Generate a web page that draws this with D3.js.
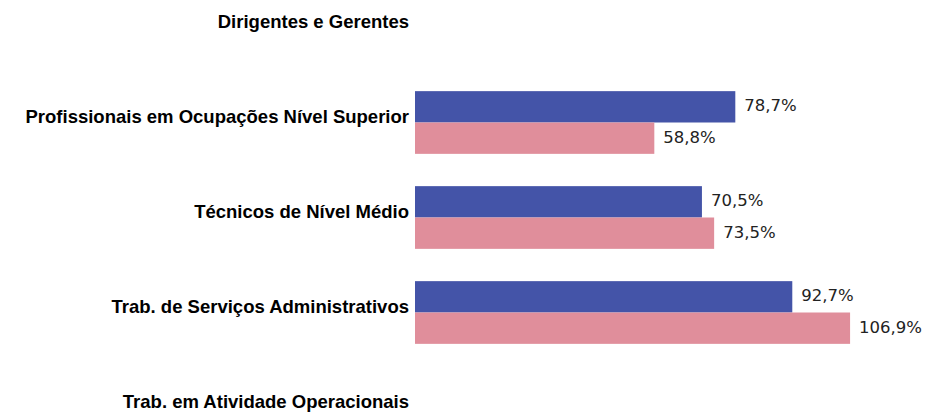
<!DOCTYPE html>
<html>
<head>
<meta charset="utf-8">
<script src="https://cdn.jsdelivr.net/npm/d3@7"></script>
<style>
  body { margin: 0; background: #fff; }
</style>
</head>
<body>
<svg id="chart" width="925" height="412"></svg>
<script>
// categories, top to bottom
const categories = [
  'Dirigentes e Gerentes',
  'Profissionais em Ocupações Nível Superior',
  'Técnicos de Nível Médio',
  'Trab. de Serviços Administrativos',
  'Trab. em Atividade Operacionais',
]

// series values (%), null where the picture shows no bar
const seriesKeys = ['Homens', 'Mulheres']
const homens = [null, 78.7, 70.5, 92.7, null]
const mulheres = [null, 58.8, 73.5, 106.9, null]

const colors = ['#4454a8', '#e08e9b']

const width = 925
const height = 412

const svg = d3.select('#chart')

svg
  .append('rect')
  .attr('width', width)
  .attr('height', height)
  .attr('fill', '#ffffff')

const rows = categories.map((c, i) => ({
  category: c,
  values: [homens[i], mulheres[i]],
}))

// outer band: one row per category (chart is cropped top and bottom)
const yScale = d3
  .scaleBand()
  .domain(categories)
  .range([-20, 455])
  .paddingInner(0.34)
  .paddingOuter(0.17)

// inner band: one bar per series
const ySub = d3
  .scaleBand()
  .domain(seriesKeys)
  .range([0, yScale.bandwidth()])

const xScale = d3.scaleLinear().domain([0, 110]).range([415, 862.7])

const groups = svg
  .append('g')
  .attr('id', 'bars')
  .selectAll('g')
  .data(rows)
  .join('g')
  .attr('transform', (d) => `translate(0,${yScale(d.category)})`)

const bars = groups
  .selectAll('g')
  .data((d) =>
    d.values
      .map((v, i) => ({ key: seriesKeys[i], value: v, i }))
      .filter((e) => e.value != null)
  )
  .join('g')

bars
  .append('rect')
  .attr('x', xScale(0))
  .attr('y', (d) => ySub(d.key))
  .attr('width', (d) => xScale(d.value) - xScale(0))
  .attr('height', ySub.bandwidth())
  .attr('fill', (d) => colors[d.i])

bars
  .append('text')
  .attr('x', (d) => xScale(d.value) + 9)
  .attr('y', (d) => ySub(d.key) + ySub.bandwidth() / 2 - 1)
  .attr('dominant-baseline', 'central')
  .attr('font-family', 'DejaVu Sans, Verdana, sans-serif')
  .attr('font-size', 16.5)
  .attr('fill', '#222')
  .text((d) => d3.format('.1f')(d.value).replace('.', ',') + '%')

// category labels
svg
  .append('g')
  .attr('id', 'yAxis')
  .selectAll('text')
  .data(categories)
  .join('text')
  .attr('x', 409)
  .attr('y', (d) => yScale(d) + yScale.bandwidth() / 2 - 6)
  .attr('text-anchor', 'end')
  .attr('dominant-baseline', 'central')
  .attr('font-family', 'Liberation Sans, Arial, sans-serif')
  .attr('font-weight', 'bold')
  .attr('font-size', 18.5)
  .attr('fill', '#000')
  .text((d) => d)
</script>
</body>
</html>
